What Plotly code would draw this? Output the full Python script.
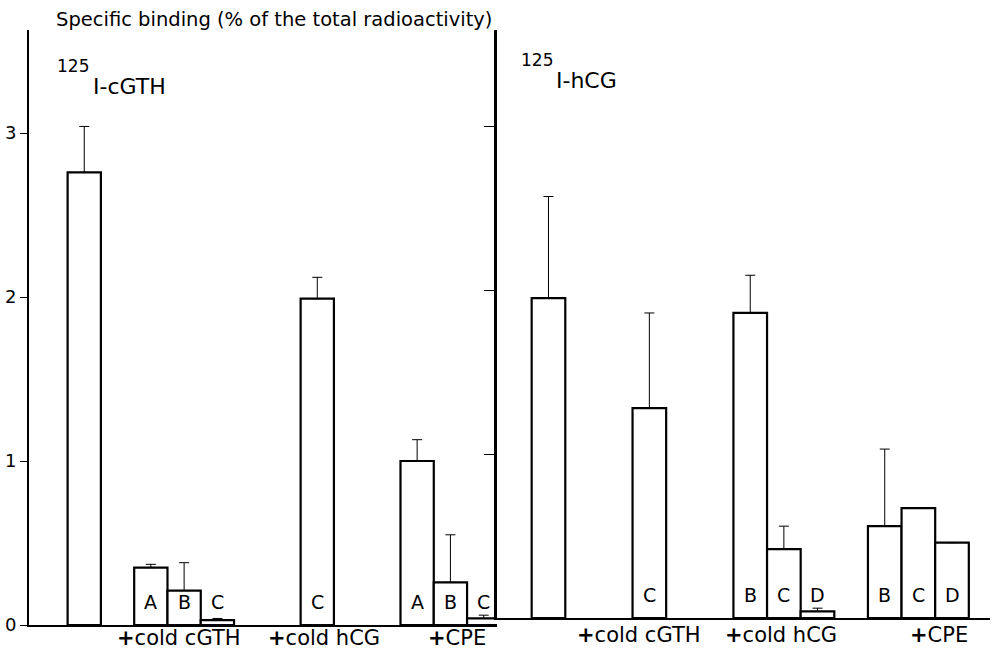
import plotly.graph_objects as go

# ---------------- data ----------------
left_letters = ["", "A", "B", "C", "C", "A", "B", "C"]
left_values = [2.76, 0.35, 0.21, 0.03, 1.99, 1.00, 0.26, 0.04]
left_errors = [0.28, 0.02, 0.17, 0.01, 0.13, 0.13, 0.29, 0.02]
left_slots = [0, 2, 3, 4, 7, 10, 11, 12]

right_letters = ["", "C", "B", "C", "D", "B", "C", "D"]
right_values = [1.95, 1.28, 1.86, 0.42, 0.04, 0.56, 0.67, 0.46]
right_errors = [0.62, 0.58, 0.23, 0.14, 0.02, 0.47, None, None]
right_slots = [0, 3, 6, 7, 8, 10, 11, 12]

group_names = ["+cold cGTH", "+cold hCG", "+CPE"]
y_ticks = [0, 1, 2, 3]
y_tick_labels = ["0", "1", "2", "3"]

title_text = "Specific binding (% of the total radioactivity)"
left_tracer = "I-cGTH"
right_tracer = "I-hCG"
isotope = "125"

# ---------------- layout constants ----------------
W, H = 995, 652
ML, MR, MT, MB = 27, 5, 30, 27
PW, PH = W - ML - MR, H - MT - MB
FONT = "DejaVu Sans, Verdana, sans-serif"
split = (496 - ML) / PW


def px_x(px):
    return (px - ML) / PW


def px_y(py):
    return (H - MB - py) / PH


fig = go.Figure()

bar_style = dict(marker=dict(color="white", line=dict(color="black", width=2.2)),
                 width=1, showlegend=False, hoverinfo="skip")

fig.add_trace(go.Bar(
    x=left_slots, y=left_values, xaxis="x", yaxis="y",
    error_y=dict(type="data", array=left_errors, arrayminus=[0] * len(left_errors),
                 symmetric=False, color="black", thickness=1, width=5),
    **bar_style))

fig.add_trace(go.Bar(
    x=right_slots, y=right_values, xaxis="x2", yaxis="y2",
    error_y=dict(type="data", array=right_errors,
                 arrayminus=[0 if e is not None else None for e in right_errors],
                 symmetric=False, color="black", thickness=1, width=5),
    **bar_style))

annotations = []
letter_font = dict(family=FONT, size=19, color="black")
for s, l in zip(left_slots, left_letters):
    if l:
        annotations.append(dict(x=s, y=0.14, xref="x", yref="y", text=l,
                                showarrow=False, font=letter_font))
for s, l in zip(right_slots, right_letters):
    if l:
        annotations.append(dict(x=s, y=0.14, xref="x2", yref="y2", text=l,
                                showarrow=False, font=letter_font))

group_font = dict(family=FONT, size=21, color="black")
left_label_x = [2.84, 7.2, 11.2]
right_label_x = [2.7, 6.9, 11.6]
for name, gx in zip(group_names, left_label_x):
    annotations.append(dict(x=gx, y=0, xref="x", yref="y", yshift=-13,
                            text="<b>+</b>" + name[1:], showarrow=False,
                            font=group_font))
for name, gx in zip(group_names, right_label_x):
    annotations.append(dict(x=gx, y=0, xref="x2", yref="y2", yshift=-17,
                            text="<b>+</b>" + name[1:], showarrow=False,
                            font=group_font))

annotations.append(dict(x=px_x(52), y=px_y(19), xref="paper", yref="paper",
                        xanchor="left", yanchor="middle", text=title_text,
                        showarrow=False, font=dict(family=FONT, size=19.5, color="black")))

iso_font = dict(family=FONT, size=17, color="black")
tracer_font = dict(family=FONT, size=22, color="black")
annotations += [
    dict(x=px_x(53), y=px_y(66), xref="paper", yref="paper", xanchor="left",
         yanchor="middle", text=isotope, showarrow=False, font=iso_font),
    dict(x=px_x(89), y=px_y(86), xref="paper", yref="paper", xanchor="left",
         yanchor="middle", text=left_tracer, showarrow=False, font=tracer_font),
    dict(x=px_x(518), y=px_y(60), xref="paper", yref="paper", xanchor="left",
         yanchor="middle", text=isotope, showarrow=False, font=iso_font),
    dict(x=px_x(553), y=px_y(80), xref="paper", yref="paper", xanchor="left",
         yanchor="middle", text=right_tracer, showarrow=False, font=tracer_font),
]

axis_common = dict(showgrid=False, zeroline=False, showline=True,
                   linecolor="black", linewidth=2)

fig.update_layout(
    width=W, height=H,
    margin=dict(l=ML, r=MR, t=MT, b=MB),
    paper_bgcolor="white", plot_bgcolor="white",
    barmode="overlay",
    font=dict(family=FONT, color="black"),
    xaxis=dict(domain=[0, split], range=[-1.66, 12.4], showticklabels=False,
               ticks="", **axis_common),
    yaxis=dict(domain=[0, 1], range=[0, (H - MB - MT) / 164], anchor="x",
               tickvals=y_ticks, ticktext=y_tick_labels, ticks="outside",
               ticklen=7, tickwidth=1, tickcolor="black",
               tickfont=dict(family=FONT, size=18, color="black"), **axis_common),
    xaxis2=dict(domain=[split, 1], range=[-1.53, 13.13], showticklabels=False,
                ticks="", anchor="y2", **axis_common),
    yaxis2=dict(domain=[px_y(618), 1], range=[0, (618 - MT) / 164], anchor="x2",
                tickvals=y_ticks[1:], ticks="outside", ticklen=10, tickwidth=1,
                tickcolor="black", showticklabels=False, showline=True,
                linecolor="black", linewidth=2.5, showgrid=False, zeroline=False),
    annotations=annotations,
)

fig.write_html(
    "out.html",
    config={"displayModeBar": False},
    post_script="document.body.style.margin='0';document.body.style.overflow='hidden';",
)
